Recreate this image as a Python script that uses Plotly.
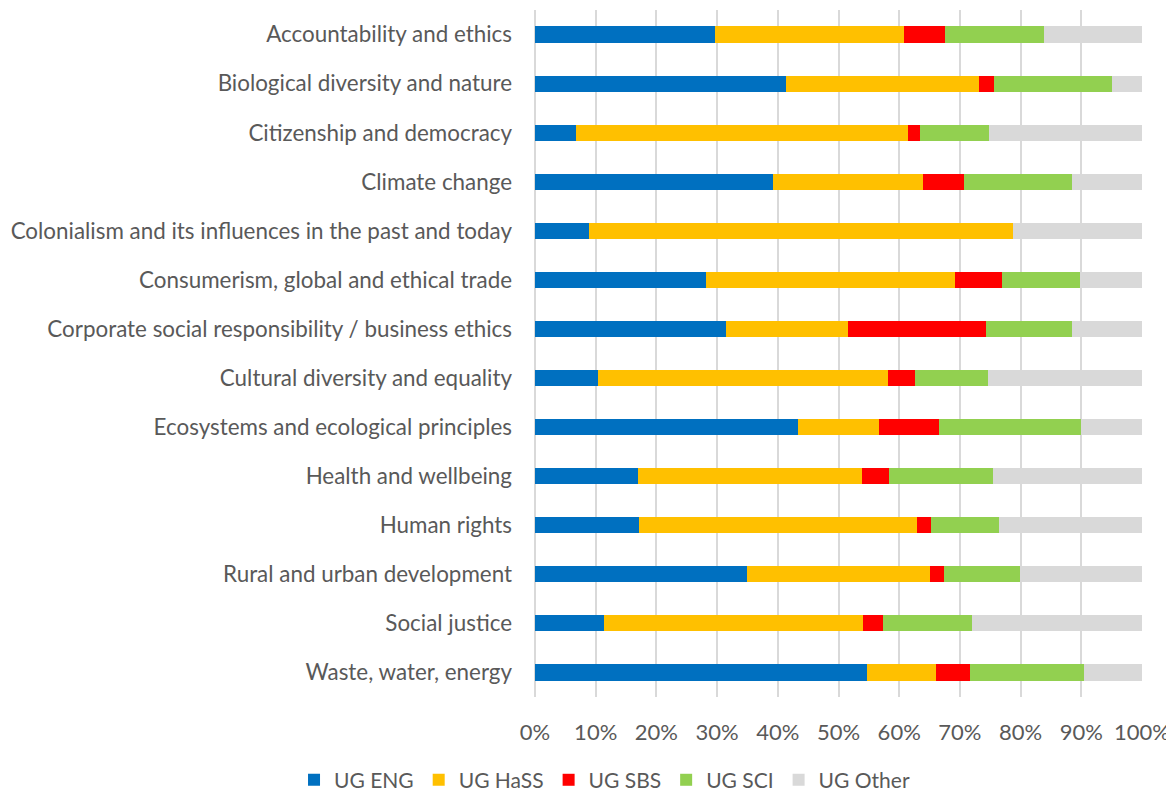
import plotly.graph_objects as go

categories = [
    "Accountability and ethics",
    "Biological diversity and nature",
    "Citizenship and democracy",
    "Climate change",
    "Colonialism and its influences in the past and today",
    "Consumerism, global and ethical trade",
    "Corporate social responsibility / business ethics",
    "Cultural diversity and equality",
    "Ecosystems and ecological principles",
    "Health and wellbeing",
    "Human rights",
    "Rural and urban development",
    "Social justice",
    "Waste, water, energy",
]

ug_eng   = [29.7, 41.4, 6.7, 39.2, 8.9, 28.2, 31.4, 10.3, 43.3, 16.9, 17.2, 35.0, 11.4, 54.7]
ug_hass  = [31.1, 31.8, 54.7, 24.7, 69.8, 41.0, 20.1, 47.9, 13.4, 36.9, 45.8, 30.0, 42.7, 11.3]
ug_sbs   = [6.8, 2.4, 2.1, 6.7, 0.0, 7.7, 22.8, 4.4, 9.9, 4.6, 2.3, 2.4, 3.2, 5.7]
ug_sci   = [16.2, 19.5, 11.3, 17.9, 0.0, 12.9, 14.2, 12.1, 23.4, 17.0, 11.2, 12.5, 14.7, 18.8]
ug_other = [16.2, 4.9, 25.2, 11.5, 21.3, 10.2, 11.5, 25.3, 10.0, 24.6, 23.5, 20.1, 28.0, 9.5]

series = [
    ("UG ENG", ug_eng, "#0070C0"),
    ("UG HaSS", ug_hass, "#FFC000"),
    ("UG SBS", ug_sbs, "#FF0000"),
    ("UG SCI", ug_sci, "#92D050"),
    ("UG Other", ug_other, "#D9D9D9"),
]

fig = go.Figure()
for name, vals, color in series:
    fig.add_trace(go.Bar(
        y=categories, x=vals, name=name, orientation="h",
        marker=dict(color=color, line=dict(width=0)),
    ))

family = "Lato, 'Open Sans', sans-serif"
font = dict(family=family, size=21, color="#595959")

fig.update_layout(
    barmode="stack",
    bargap=0.67,
    width=1166, height=783,
    margin=dict(l=527, r=32, t=2, b=94, autoexpand=False),
    plot_bgcolor="white", paper_bgcolor="white",
    font=font,
    legend=dict(orientation="h", xref="paper", x=-0.397, xanchor="left",
                yref="paper", y=-0.121, yanchor="middle",
                font=font, itemwidth=30, traceorder="normal"),
    xaxis=dict(range=[0, 100], dtick=10, ticksuffix="%", showgrid=True,
               gridcolor="#D9D9D9", gridwidth=1.5, zeroline=True,
               zerolinecolor="#D9D9D9", zerolinewidth=1.5, showline=False,
               tickfont=dict(family=family, size=22, color="#595959"),
               ticks="", ticklabelstandoff=20),
    yaxis=dict(autorange="reversed", showgrid=False,
               tickfont=dict(family=family, size=22.4, color="#595959"),
               ticklabelstandoff=22, ticks=""),
)

fig.write_html("out.html")
